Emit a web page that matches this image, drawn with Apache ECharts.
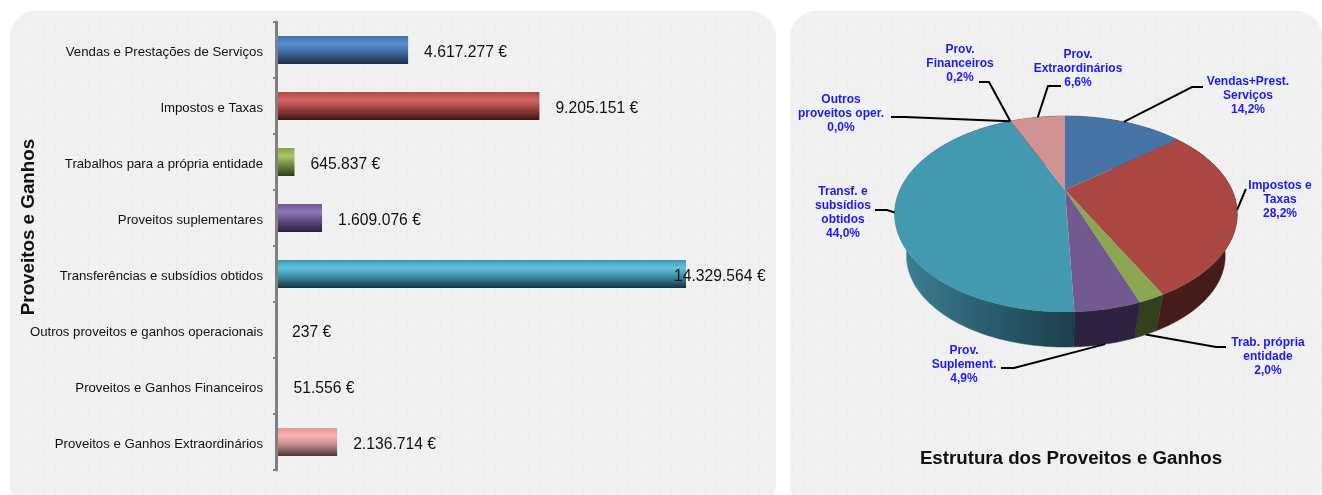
<!DOCTYPE html>
<html>
<head>
<meta charset="utf-8">
<title>Proveitos e Ganhos</title>
<style>
  html, body { margin: 0; padding: 0; background: #fff; }
  #main { width: 1322px; height: 495px; }
</style>
<script src="https://cdn.jsdelivr.net/npm/echarts@6/dist/echarts.min.js"></script>
</head>
<body>
<div id="main"></div>
<script>
// data
var categories = ['Vendas e Prestações de Serviços', 'Impostos e Taxas', 'Trabalhos para a própria entidade',
  'Proveitos suplementares', 'Transferências e subsídios obtidos', 'Outros proveitos e ganhos operacionais',
  'Proveitos e Ganhos Financeiros', 'Proveitos e Ganhos Extraordinários'];
var values = [4617277, 9205151, 645837, 1609076, 14329564, 237, 51556, 2136714];
var pieNames = ['Vendas+Prest.\nServiços', 'Impostos e\nTaxas', 'Trab. própria\nentidade', 'Prov.\nSuplement.',
  'Transf. e\nsubsídios\nobtidos', 'Outros\nproveitos oper.', 'Prov.\nFinanceiros', 'Prov.\nExtraordinários'];

// colours: [top, highlight, middle, bottom] of the bars
var barShades = [
  ['#3f6ea8', '#5a90d0', '#3b689c', '#1b2e47'],
  ['#a84a48', '#d46664', '#9b3f3d', '#3e1514'],
  ['#86a04c', '#aac864', '#6f8a3e', '#2f3d18'],
  ['#6f5690', '#9376bd', '#5f4a7f', '#2a1f3d'],
  ['#3f96ad', '#60c3e0', '#3a8ca4', '#17333f'],
  ['#9db4d0', '#b9cde5', '#9db4d0', '#5a6a80'],
  ['#9db4d0', '#b9cde5', '#9db4d0', '#5a6a80'],
  ['#d89a99', '#ffb0b0', '#c08c8c', '#4f3232']
];
var pieTop = ['#4674a6', '#aa4743', '#8aa650', '#725a91', '#4299b0', '#4299b0', '#6f8fb5', '#d09392'];
var pieWall = ['#2a4566', '#451c1a', '#343f1c', '#2d2340', null, '#2a5f6e', '#2a4566', '#6e4a4a'];

// leader lines: elbow then end, and the label centre
var labelLayout = [
  { elbow: [1192, 87], end: [1203, 87], text: [1248, 96] },
  { elbow: [1245, 191], end: [1246, 189], text: [1280, 200] },
  { elbow: [1216, 347], end: [1226, 347], text: [1268, 357], low: true },
  { elbow: [1014, 368], end: [1001, 368], text: [964, 365], low: true },
  { elbow: [887, 210], end: [875, 210], text: [843, 213] },
  { elbow: [905, 117], end: [891, 117], text: [841, 114] },
  { elbow: [989, 82], end: [979, 82], text: [960, 64] },
  { elbow: [1048, 86], end: [1061, 86], text: [1078, 69] }
];

var total = values.reduce(function (a, b) { return a + b; }, 0);

function euro(v) {
  return String(v).replace(/\B(?=(\d{3})+(?!\d))/g, '.') + ' €';
}
function percent(v) {
  return (v / total * 100).toFixed(1).replace('.', ',') + '%';
}

// tile of the panels' background
function panelTile() {
  var c = document.createElement('canvas');
  c.width = c.height = 11;
  var ctx = c.getContext('2d');
  for (var y = 0; y < 11; y++) {
    for (var x = 0; x < 11; x++) {
      var on = (x === 0 || y === 0) ? true : false;
      ctx.fillStyle = on ? '#ededed' : ((x + y) % 2 ? '#f3f3f3' : '#efefef');
      ctx.fillRect(x, y, 1, 1);
    }
  }
  return c;
}

// the pie is a flat disc seen in perspective
var apex = [1065, 190], persp = -0.245, radXLeft = 165.2, radXRight = 167, radY = 45.6, drop = 43.5, shrink = 0.93;

function rimTop(deg) {
  var a = deg * Math.PI / 180, X = Math.sin(a), Y = -Math.cos(a), d = 1 + persp * Y;
  return [apex[0] + (X < 0 ? radXLeft : radXRight) * X / d, (apex[1] + radY * Y) / d];
}
function rimBottom(deg) {
  var p = rimTop(deg);
  return [apex[0] + shrink * (p[0] - apex[0]), apex[1] + drop + shrink * (p[1] - apex[1])];
}

function renderSlice(params, api) {
  var i = params.dataIndex, v = api.value(0), before = 0;
  for (var k = 0; k < i; k++) before += values[k];
  var from = before / total * 360, to = (before + v) / total * 360, mid = (from + to) / 2;

  var topPts = [], botPts = [];
  var steps = Math.max(1, Math.ceil((to - from) / 1.5));
  for (var s = 0; s <= steps; s++) {
    var deg = from + (to - from) * s / steps;
    topPts.push(rimTop(deg));
    botPts.push(rimBottom(deg));
  }

  var wallFill = pieWall[i];
  if (!wallFill) {
    wallFill = new echarts.graphic.LinearGradient(895, 0, 1075, 0, [
      { offset: 0, color: '#3f8397' }, { offset: 0.45, color: '#2b6273' }, { offset: 1, color: '#1b3e4a' }
    ], true);
  }

  var layout = labelLayout[i];
  var anchor = layout.low ? rimBottom(mid) : rimTop(mid);

  return {
    type: 'group',
    silent: true,
    children: [
      {
        type: 'polygon', z2: 1,
        shape: { points: topPts.concat(botPts.slice().reverse()) },
        style: { fill: wallFill, stroke: wallFill, lineWidth: 0.5 }
      },
      {
        type: 'polygon', z2: 5,
        shape: { points: [apex].concat(topPts) },
        style: { fill: pieTop[i] }
      },
      {
        type: 'polyline', z2: 8,
        shape: { points: [anchor, layout.elbow, layout.end] },
        style: { fill: 'none', stroke: '#000', lineWidth: 2 }
      },
      {
        type: 'text', z2: 9,
        style: {
          x: layout.text[0], y: layout.text[1],
          text: pieNames[i] + '\n' + percent(v),
          align: 'center', verticalAlign: 'middle',
          fill: '#1a1aff', lineHeight: 14,
          font: 'bold 12px "Liberation Sans", Arial, sans-serif'
        }
      }
    ]
  };
}

var chartDom = document.getElementById('main');
var myChart = echarts.init(chartDom);

var barData = values.map(function (v, i) {
  var c = barShades[i];
  var item = {
    value: v,
    itemStyle: {
      color: new echarts.graphic.LinearGradient(0, 0, 0, 1, [
        { offset: 0, color: c[0] },
        { offset: 0.28, color: c[1] },
        { offset: 0.6, color: c[2] },
        { offset: 1, color: c[3] }
      ])
    }
  };
  // the longest label sits over the end of its bar
  if (v === 14329564) item.label = { distance: -12 };
  return item;
});

var option = {
  animation: false,
  textStyle: { fontFamily: '"Liberation Sans", Arial, sans-serif' },
  graphic: [
    { type: 'rect', z: -10, silent: true, shape: { x: 10, y: 11, width: 766, height: 500, r: 26 }, style: { fill: { image: panelTile(), repeat: 'repeat' } } },
    { type: 'rect', z: -10, silent: true, shape: { x: 790, y: 11, width: 532, height: 500, r: 26 }, style: { fill: { image: panelTile(), repeat: 'repeat' } } }
  ],
  title: {
    text: 'Estrutura dos Proveitos e Ganhos',
    left: 1066, top: 444, textAlign: 'center',
    textStyle: { fontSize: 18.7, fontWeight: 'bold', color: '#111', fontFamily: '"Liberation Sans", Arial, sans-serif' }
  },
  grid: { left: 276, top: 22, width: 429.2, height: 448 },
  xAxis: { type: 'value', min: 0, max: 15000000, show: false },
  yAxis: {
    type: 'category',
    inverse: true,
    data: categories,
    z: 3,
    name: 'Proveitos e Ganhos',
    nameLocation: 'middle',
    nameGap: 238,
    nameMoveOverlap: false,
    nameTextStyle: { fontSize: 18.8, fontWeight: 'bold', color: '#111', padding: [0, 0, 0, 38] },
    axisLine: { lineStyle: { color: '#808080', width: 3 } },
    axisTick: { show: true, length: 3, lineStyle: { color: '#808080', width: 2 } },
    axisLabel: { color: '#111', fontSize: 13.2, margin: 13, verticalAlign: 'top', lineHeight: 4 }
  },
  series: [
    {
      type: 'bar',
      data: barData,
      barWidth: 28,
      label: {
        show: true, position: 'right', distance: 16, offset: [0, 3],
        color: '#111', fontSize: 15.7,
        formatter: function (p) { return euro(p.value); }
      }
    },
    {
      type: 'custom',
      coordinateSystem: 'none',
      renderItem: renderSlice,
      data: values.map(function (v) { return [v]; })
    }
  ]
};

option && myChart.setOption(option);
</script>
</body>
</html>
